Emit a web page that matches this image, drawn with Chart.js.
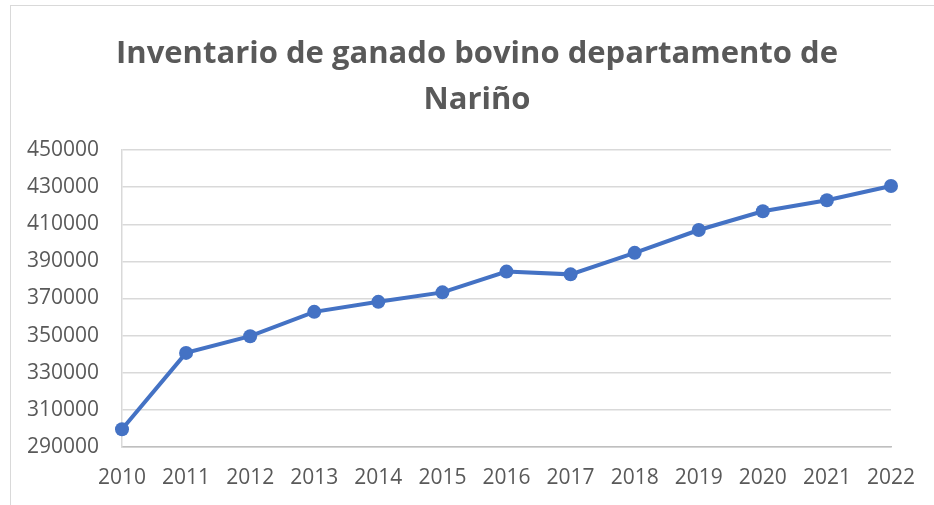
<!DOCTYPE html>
<html>
<head>
<meta charset="utf-8">
<script src="https://cdn.jsdelivr.net/npm/chart.js@4/dist/chart.umd.min.js"></script>
<style>
  body { margin: 0; background: #fff; }
  #wrap { position: relative; width: 934px; height: 505px; }
  #frame { position: absolute; left: 10px; top: 5px; right: 0; bottom: 0; border-left: 1px solid #d9d9d9; border-top: 1px solid #d9d9d9; pointer-events: none; }
  #title { position: absolute; left: 20px; width: 914px; top: 28px; text-align: center; font: bold 31px/46px 'Open Sans', sans-serif; color: #595959; }
</style>
</head>
<body>
<div id="wrap">
  <canvas id="ganadoChart" width="934" height="505"></canvas>
  <div id="frame"></div>
  <div id="title"></div>
</div>
<script>
const years = ['2010', '2011', '2012', '2013', '2014', '2015', '2016', '2017', '2018', '2019', '2020', '2021', '2022'];
const cattle = [299600, 340700, 349700, 362800, 368200, 373300, 384500, 383000, 394600, 406900, 417000, 422900, 430600];
const titleLines = ['Inventario de ganado bovino departamento de', 'Nariño'];

const textColor = '#595959';
const gridColor = '#d9d9d9';

// title as real text above the canvas, centred on the frame like the original
document.getElementById('title').innerHTML = titleLines.join('<br>');

const ctx = document.getElementById('ganadoChart').getContext('2d');
const ganadoChart = new Chart(ctx, {
  type: 'line',
  data: {
    labels: years,
    datasets: [{
      data: cattle,
      borderColor: '#4472c4',
      backgroundColor: '#4472c4',
      borderWidth: 4,
      pointRadius: 7,
      pointHoverRadius: 7,
      pointBorderWidth: 0,
      tension: 0,
    }],
  },
  options: {
    responsive: false,
    animation: false,
    layout: { padding: { left: 0, right: 43, top: 150, bottom: 0 } },
    plugins: {
      legend: { display: false },
      tooltip: { enabled: false },
      title: { display: false },
    },
    scales: {
      x: {
        offset: false,
        grid: { display: false, drawTicks: false },
        border: { display: true, color: '#bfbfbf', width: 1.5 },
        ticks: { color: textColor, font: { family: 'Open Sans', size: 21 }, padding: 18, maxRotation: 0, autoSkip: false },
        afterFit: (scale) => { scale.height = 58; },
      },
      y: {
        min: 290000,
        max: 450000,
        grid: { color: gridColor, lineWidth: 1.5, drawTicks: false },
        border: { display: true, color: gridColor, width: 1.5 },
        ticks: {
          stepSize: 20000,
          color: textColor,
          font: { family: 'Open Sans', size: 21 },
          padding: 23,
          callback: (v) => String(v),
        },
        afterFit: (scale) => { scale.width = 122; },
      },
    },
  },
});
</script>
</body>
</html>
